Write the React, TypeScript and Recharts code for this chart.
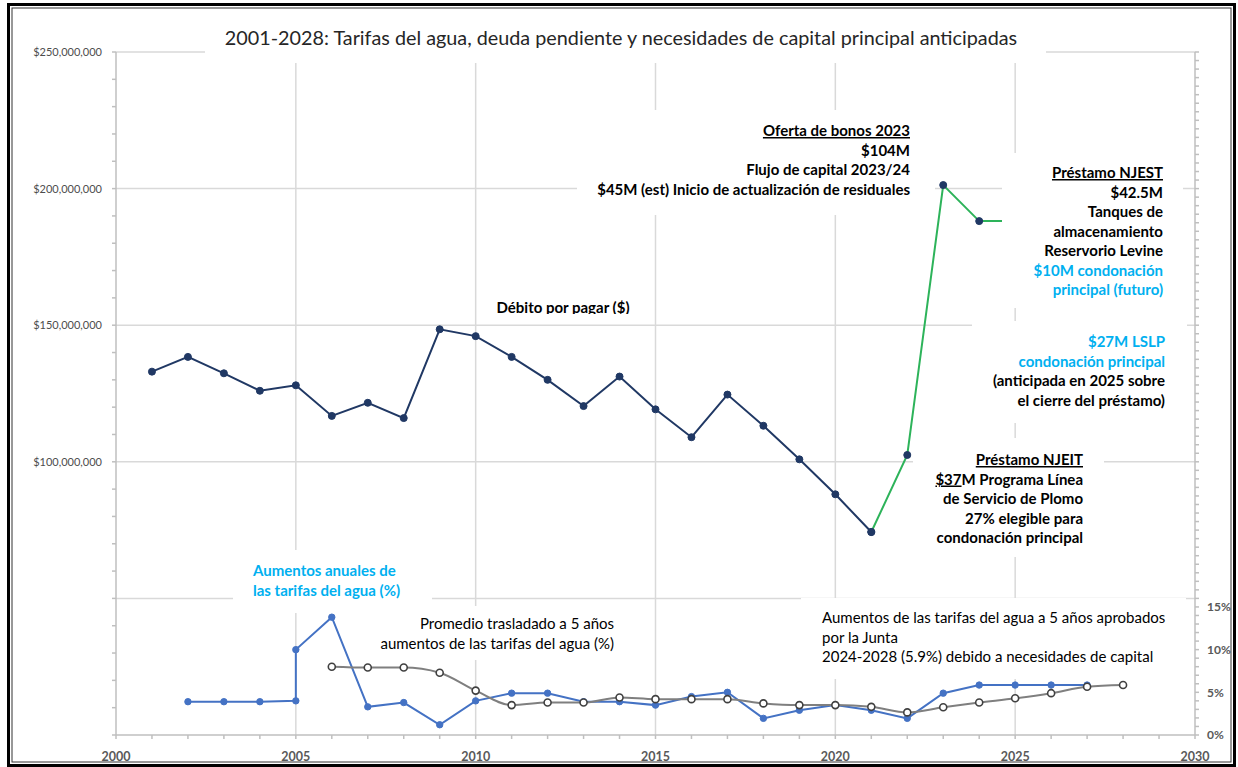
import React from 'react';
import { LineChart, Line, XAxis, YAxis, CartesianGrid } from 'recharts';

// ---------- data ----------
const debtYears = [2001, 2002, 2003, 2004, 2005, 2006, 2007, 2008, 2009, 2010, 2011, 2012, 2013, 2014, 2015, 2016, 2017, 2018, 2019, 2020, 2021];
const debtValuesM = [133.0, 138.4, 132.4, 126.0, 128.0, 116.8, 121.6, 116.0, 148.5, 146.0, 138.4, 130.0, 120.4, 131.2, 119.2, 109.0, 124.6, 113.2, 100.9, 88.1, 74.3];

const projYears = [2021, 2022, 2023, 2024, 2025];
const projValuesM = [74.3, 102.5, 201.3, 188.1, 188.1];

const rateYears = [2002, 2003, 2004, 2005, 2005, 2006, 2007, 2008, 2009, 2010, 2011, 2012, 2013, 2014, 2015, 2016, 2017, 2018, 2019, 2020, 2021, 2022, 2023, 2024, 2025, 2026, 2027];
const rateValues = [3.9, 3.9, 3.9, 4.0, 10.0, 13.8, 3.3, 3.8, 1.2, 4.0, 4.9, 4.9, 3.9, 3.9, 3.5, 4.5, 5.0, 1.95, 2.9, 3.5, 2.9, 1.95, 4.9, 5.85, 5.85, 5.85, 5.85];

const avgYears = [2006, 2007, 2008, 2009, 2010, 2011, 2012, 2013, 2014, 2015, 2016, 2017, 2018, 2019, 2020, 2021, 2022, 2023, 2024, 2025, 2026, 2027, 2028];
const avgValues = [8.0, 7.9, 7.9, 7.3, 5.2, 3.5, 3.8, 3.8, 4.4, 4.2, 4.2, 4.2, 3.7, 3.5, 3.5, 3.3, 2.65, 3.25, 3.8, 4.3, 4.9, 5.65, 5.85];

const xLabelYears = [2000, 2005, 2010, 2015, 2020, 2025, 2030];
const xGridYears = [2005, 2010, 2015, 2020, 2025];
const leftLabelValuesM = [100, 150, 200, 250];
const leftGridValuesM = [50, 100, 150, 200, 250];
const rightLabelValues = [0, 5, 10, 15];

const TITLE = '2001-2028: Tarifas del agua, deuda pendiente y necesidades de capital principal anticipadas';

// ---------- styles ----------
const W = 1238;
const H = 767;
const NAVY = '#203864';
const GREEN = '#2DB35A';
const BLUE = '#4472C4';
const GREY = '#7F7F7F';
const CYAN = '#00B0F0';
const FONT = 'Lato, "Open Sans", sans-serif';

const xTicks = Array.from({ length: 31 }, (_, i) => 2000 + i);
const leftTicks = Array.from({ length: 26 }, (_, i) => i * 10e6);
const rightTicks = Array.from({ length: 81 }, (_, i) => i);

type Line_ = { text: string; color?: string; underline?: boolean; partUnderline?: [string, string] };

function Block({ x, y, lines, anchor = 'end', weight = 700, size = 15, step = 19.5 }: { x: number; y: number; lines: Line_[]; anchor?: 'start' | 'end' | 'middle'; weight?: number; size?: number; step?: number }) {
  return (
    <g fontFamily={FONT} fontSize={size} fontWeight={weight} textAnchor={anchor}>
      {lines.map((l, i) => (
        <text key={i} x={x} y={y + i * step} fill={l.color || '#000'} textDecoration={l.underline ? 'underline' : undefined}>
          {l.partUnderline ? (
            <>
              <tspan textDecoration="underline">{l.partUnderline[0]}</tspan>
              <tspan>{l.partUnderline[1]}</tspan>
            </>
          ) : (
            l.text
          )}
        </text>
      ))}
    </g>
  );
}

export default function App() {
  const debtData = debtYears.map((year, i) => ({ year, value: debtValuesM[i] * 1e6 }));
  const projData = projYears.map((year, i) => ({ year, value: projValuesM[i] * 1e6 }));
  const rateData = rateYears.map((year, i) => ({ year, value: rateValues[i] }));
  const avgData = avgYears.map((year, i) => ({ year, value: avgValues[i] }));

  const boxes = [
    { x: 205, y: 14, w: 841, h: 49 }, // title
    { x: 577, y: 110, w: 358, h: 105 }, // oferta
    { x: 1002, y: 153, w: 181, h: 155 }, // NJEST
    { x: 972, y: 321, w: 215, h: 102 }, // LSLP
    { x: 913, y: 438, w: 191, h: 119 }, // NJEIT
    { x: 233, y: 550, w: 199, h: 63 }, // aumentos anuales
    { x: 378, y: 606, w: 240, h: 54 }, // promedio
    { x: 801, y: 598, w: 385, h: 81 }, // junta
  ];

  return (
    <div style={{ position: 'absolute', left: 0, top: 0, width: W, height: H, background: '#fff', overflow: 'hidden' }}>
      <LineChart width={W} height={H} margin={{ top: 52, right: 3, bottom: 2, left: 16 }}>
        <CartesianGrid
          yAxisId="left"
          stroke="#d9d9d9"
          strokeWidth={1.5}
          horizontalValues={leftGridValuesM.map((v) => v * 1e6)}
          verticalValues={xGridYears}
        />
        <XAxis
          type="number"
          dataKey="year"
          domain={[2000, 2030]}
          ticks={xTicks}
          interval={0}
          height={30}
          tickSize={4}
          tickMargin={13}
          stroke="#bfbfbf"
          strokeWidth={1.5}
          tickFormatter={(v: number) => (xLabelYears.includes(v) ? String(v) : '')}
          tick={{ fontSize: 12.5, fill: '#595959', fontFamily: FONT, fontWeight: 700 }}
        />
        <YAxis
          yAxisId="left"
          width={100}
          domain={[0, 250e6]}
          ticks={leftTicks}
          interval={0}
          tickSize={4}
          tickMargin={10}
          stroke="#bfbfbf"
          strokeWidth={1.5}
          tickFormatter={(v: number) => (leftLabelValuesM.includes(Math.round(v / 1e6)) ? '$' + v.toLocaleString('en-US') : '')}
          tick={{ fontSize: 11, fill: '#4d4d4d', fontFamily: FONT }}
        />
        <YAxis
          yAxisId="right"
          orientation="right"
          width={40}
          domain={[0, 80]}
          ticks={rightTicks}
          interval={0}
          tickSize={4}
          tickMargin={8}
          stroke="#bfbfbf"
          strokeWidth={1.5}
          tickFormatter={(v: number) => (rightLabelValues.includes(v) ? v + '%' : '')}
          tick={{ fontSize: 12, fill: '#595959', fontFamily: FONT, fontWeight: 700 }}
        />
        <Line
          yAxisId="left"
          data={debtData}
          dataKey="value"
          stroke={NAVY}
          strokeWidth={2}
          dot={{ r: 3.5, fill: NAVY, stroke: NAVY, strokeWidth: 1 }}
          activeDot={false}
          isAnimationActive={false}
        />
        <Line
          yAxisId="left"
          data={projData}
          dataKey="value"
          stroke={GREEN}
          strokeWidth={2}
          dot={{ r: 3.5, fill: NAVY, stroke: NAVY, strokeWidth: 1 }}
          activeDot={false}
          isAnimationActive={false}
        />
        <Line
          yAxisId="right"
          data={rateData}
          dataKey="value"
          stroke={BLUE}
          strokeWidth={2}
          dot={{ r: 3.2, fill: BLUE, stroke: BLUE, strokeWidth: 1 }}
          activeDot={false}
          isAnimationActive={false}
        />
        <Line
          yAxisId="right"
          type="monotone"
          data={avgData}
          dataKey="value"
          stroke={GREY}
          strokeWidth={2}
          dot={{ r: 3.5, fill: '#fff', stroke: '#404040', strokeWidth: 1.6 }}
          activeDot={false}
          isAnimationActive={false}
        />
      </LineChart>

      <svg width={W} height={H} style={{ position: 'absolute', left: 0, top: 0, pointerEvents: 'none' }}>
        {boxes.map((b, i) => (
          <rect key={i} x={b.x} y={b.y} width={b.w} height={b.h} fill="#fff" />
        ))}

        <text x={621} y={45} textAnchor="middle" fontFamily={FONT} fontSize={19.8} fill="#262626">
          {TITLE}
        </text>

        <Block
          x={910}
          y={136}
          lines={[
            { text: 'Oferta de bonos 2023', underline: true },
            { text: '$104M' },
            { text: 'Flujo de capital 2023/24' },
            { text: '$45M (est) Inicio de actualización de residuales' },
          ]}
        />

        <Block x={563} y={313} anchor="middle" lines={[{ text: 'Débito por pagar ($)' }]} />
        <rect x={485} y={314} width={155} height={8} fill="#fff" />

        <Block
          x={1163}
          y={178}
          lines={[
            { text: 'Préstamo NJEST', underline: true },
            { text: '$42.5M' },
            { text: 'Tanques de' },
            { text: 'almacenamiento' },
            { text: 'Reservorio Levine' },
            { text: '$10M condonación', color: CYAN },
            { text: 'principal (futuro)', color: CYAN },
          ]}
        />

        <Block
          x={1165}
          y={347}
          lines={[
            { text: '$27M LSLP', color: CYAN },
            { text: 'condonación principal', color: CYAN },
            { text: '(anticipada en 2025 sobre' },
            { text: 'el cierre del préstamo)' },
          ]}
        />

        <Block
          x={1083}
          y={465}
          lines={[
            { text: 'Préstamo NJEIT', underline: true },
            { text: '$37M Programa Línea', partUnderline: ['$37', 'M Programa Línea'] },
            { text: 'de Servicio de Plomo' },
            { text: '27% elegible para' },
            { text: 'condonación principal' },
          ]}
        />

        <Block
          x={253}
          y={576}
          anchor="start"
          step={20}
          lines={[
            { text: 'Aumentos anuales de', color: CYAN },
            { text: 'las tarifas del agua (%)', color: CYAN },
          ]}
        />

        <Block
          x={614}
          y={629}
          weight={400}
          step={20}
          lines={[{ text: 'Promedio trasladado a 5 años' }, { text: 'aumentos de las tarifas del agua (%)' }]}
        />

        <Block
          x={822}
          y={623}
          anchor="start"
          weight={400}
          lines={[
            { text: 'Aumentos de las tarifas del agua a 5 años aprobados' },
            { text: 'por la Junta' },
            { text: '2024-2028 (5.9%) debido a necesidades de capital' },
          ]}
        />

        {/* frame */}
        <rect x={8.5} y={4.5} width={1226} height={761} fill="none" stroke="#000" strokeWidth={3} />
        <rect x={12} y={8} width={1219} height={754} fill="none" stroke="#333" strokeWidth={1} />
      </svg>
    </div>
  );
}
